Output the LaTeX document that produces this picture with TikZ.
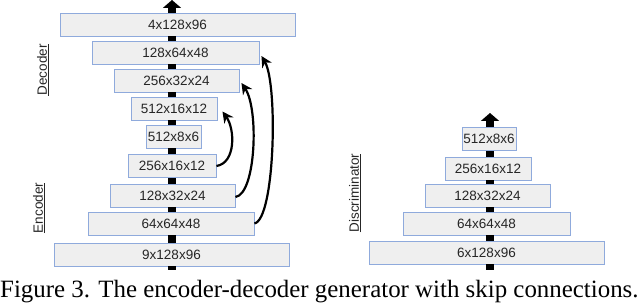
\documentclass[tikz,border=0pt]{standalone}
\usepackage{fontspec}
\setmainfont{Liberation Serif}
\setsansfont{Liberation Sans}
\usepackage{xcolor}
\usetikzlibrary{arrows.meta,calc}

\definecolor{layerfill}{HTML}{EFEFEF}
\definecolor{layerline}{HTML}{8FAADC}

\tikzset{
  layer/.style={rectangle, draw=layerline, fill=layerfill, line width=0.9pt,
    minimum height=23pt, inner sep=0pt, font=\sffamily\fontsize{13.5}{16}\selectfont, text=black!85},
  bar/.style={line width=8pt, draw=black},
  outarrow/.style={line width=8pt, draw=black, -{Triangle[length=8pt,width=18pt]}},
  skiparrow/.style={line width=2.2pt, draw=black, -{Stealth[length=11pt,width=11pt]}},
  sidelabel/.style={rotate=90, font=\sffamily\fontsize{13.5}{16}\selectfont, text=black!85}
}

\begin{document}
\begin{tikzpicture}[x=1pt,y=1pt]
    \useasboundingbox (0,0) rectangle (640,304);
    % generator
    \node[layer, minimum width=235pt] (in9)  at (171.5,49.5)  {9x128x96};
    \node[layer, minimum width=166pt] (e64)  at (171,80.5)    {64x64x48};
    \node[layer, minimum width=125pt] (e128) at (172.5,108.5) {128x32x24};
    \node[layer, minimum width=88pt]  (e256) at (172,138)     {256x16x12};
    \node[layer, minimum width=55pt]  (b512) at (173.5,167.5) {512x8x6};
    \node[layer, minimum width=86pt]  (d512) at (174,195.5)   {512x16x12};
    \node[layer, minimum width=125pt] (d256) at (176.5,223.5) {256x32x24};
    \node[layer, minimum width=167pt] (d128) at (175.5,251.5) {128x64x48};
    \node[layer, minimum width=235pt] (out4) at (177.5,279.5) {4x128x96};
    \coordinate (gin)  at (172,34);
    \coordinate (gout) at (172,304);
    \draw[bar] (gin) -- (gin |- in9.south);
    \foreach \lo/\hi in {in9/e64, e64/e128, e128/e256, e256/b512, b512/d512, d512/d256, d256/d128, d128/out4}
      \draw[bar] (gin |- \lo.north) -- (gin |- \hi.south);
    \draw[outarrow] (gin |- out4.north) -- (gout);
    % skip connections
    \draw[skiparrow] (e256.east) .. controls (236,141) and (235,175) .. ([shift={(5,-3)}]d512.east);
    \draw[skiparrow] ([yshift=-1.5pt]e128.east) .. controls (256,110) and (259,195) .. ([shift={(2,-2.5)}]d256.east);
    \draw[skiparrow] (e64.east) .. controls (275,85) and (278,220) .. ([shift={(2,-3.5)}]d128.east);
    \node[sidelabel] (declab) at (43,234) {\underline{Decoder}};
    \node[sidelabel] (enclab) at (39,96)  {\underline{Encoder}};
    % discriminator
    \node[layer, minimum width=235pt] (r6)   at (486.5,51.5)  {6x128x96};
    \node[layer, minimum width=167pt] (r64)  at (486.5,80.5)  {64x64x48};
    \node[layer, minimum width=125pt] (r128) at (487.5,108.5) {128x32x24};
    \node[layer, minimum width=86pt]  (r256) at (488,135.5)   {256x16x12};
    \node[layer, minimum width=54pt]  (r512) at (489,165)     {512x8x6};
    \coordinate (din)  at (490,34);
    \coordinate (dout) at (490,191);
    \draw[bar] (din) -- (din |- r6.south);
    \foreach \lo/\hi in {r6/r64, r64/r128, r128/r256, r256/r512}
      \draw[bar] (din |- \lo.north) -- (din |- \hi.south);
    \draw[outarrow] (din |- r512.north) -- (dout);
    \node[sidelabel] (dislab) at (355,111) {\underline{Discriminator}};
    % caption
    \node[anchor=base west, inner sep=0pt, font=\fontsize{24.9}{28}\selectfont] (caption) at (0,6)
      {Figure 3. The encoder-decoder generator with skip connections.};
\end{tikzpicture}
\end{document}
